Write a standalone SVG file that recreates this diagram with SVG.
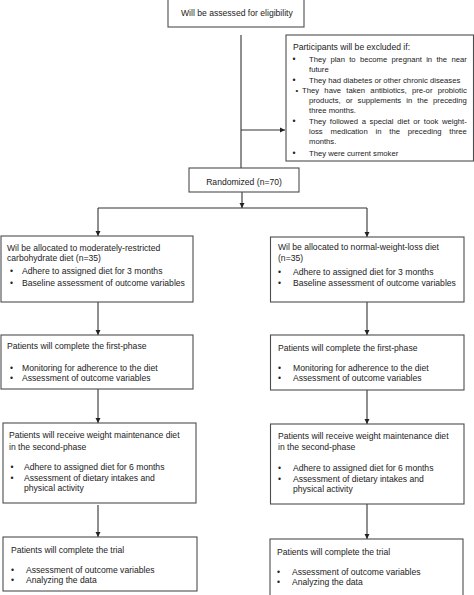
<svg xmlns="http://www.w3.org/2000/svg" width="474" height="595" viewBox="0 0 474 595">
<style>
.box{fill:#fff;stroke:#4d4d4d;stroke-width:1.1}
.t{font-family:"Liberation Sans",Arial,sans-serif;font-size:8.6px;fill:#222}
.s{font-family:"Liberation Sans",Arial,sans-serif;font-size:7.7px;fill:#222}
.c{fill:none;stroke:#333;stroke-width:1.1}
</style>
<defs>
<marker id="ah" markerUnits="userSpaceOnUse" markerWidth="6" markerHeight="6" refX="5" refY="3" orient="auto">
<path d="M0,0.5 L5,3 L0,5.5 Z" fill="#222"/>
</marker>
</defs>
<rect width="474" height="595" fill="#fff"/>
<g id="connectors">
<path class="c" d="M241 35 V168"/>
<path class="c" d="M241 130 H285" marker-end="url(#ah)"/>
<path class="c" d="M242 192 V208" marker-end="url(#ah)"/>
<path class="c" d="M98 208 H367"/>
<path class="c" d="M98 208 V236" marker-end="url(#ah)"/>
<path class="c" d="M367 208 V237" marker-end="url(#ah)"/>
<path class="c" d="M98 302 V335" marker-end="url(#ah)"/>
<path class="c" d="M367 302 V335" marker-end="url(#ah)"/>
<path class="c" d="M98 389 V423" marker-end="url(#ah)"/>
<path class="c" d="M367 390 V424" marker-end="url(#ah)"/>
<path class="c" d="M98 505 V537" marker-end="url(#ah)"/>
<path class="c" d="M367 504 V539" marker-end="url(#ah)"/>
</g>
<g id="eligibility">
<rect class="box" x="168" y="-1" width="136" height="28"/>
<text class="t" x="181" y="16">Will be assessed for eligibility</text>
</g>
<g id="excluded">
<rect class="box" x="286" y="35" width="187.5" height="126"/>
<text class="t" x="293" y="50">Participants will be excluded if:</text>
<text class="t" x="292.5" y="62">•</text>
<text class="s" x="309" y="62" word-spacing="2.15">They plan to become pregnant in the near</text>
<text class="s" x="309" y="72">future</text>
<text class="t" x="292.5" y="83">•</text>
<text class="s" x="309" y="83">They had diabetes or other chronic diseases</text>
<text class="s" x="295.5" y="93" font-size="6">•</text>
<text class="s" x="302" y="93" word-spacing="3.13">They have taken antibiotics, pre-or probiotic</text>
<text class="s" x="309" y="103" word-spacing="2.93">products, or supplements in the preceding</text>
<text class="s" x="309" y="113">three months.</text>
<text class="t" x="292.5" y="124">•</text>
<text class="s" x="309" y="124" word-spacing="1.54">They followed a special diet or took weight-</text>
<text class="s" x="309" y="134" word-spacing="5.67">loss medication in the preceding three</text>
<text class="s" x="309" y="144">months.</text>
<text class="t" x="292.5" y="156">•</text>
<text class="s" x="309" y="156">They were current smoker</text>
</g>
<g id="randomized">
<rect class="box" x="189" y="168" width="110" height="24"/>
<text class="t" x="244" y="185" text-anchor="middle">Randomized (n=70)</text>
</g>
<g id="left-allocation">
<rect class="box" x="1" y="236" width="192" height="66"/>
<text class="t" x="7" y="251">Wil be allocated to moderately-restricted</text>
<text class="t" x="7" y="261">carbohydrate diet (n=35)</text>
<text class="t" x="10" y="274">•</text>
<text class="t" x="22" y="274">Adhere to assigned diet for 3 months</text>
<text class="t" x="10" y="286">•</text>
<text class="t" x="22" y="286">Baseline assessment of outcome variables</text>
</g>
<g id="right-allocation">
<rect class="box" x="270.5" y="237" width="193.5" height="65"/>
<text class="t" x="278" y="250">Wil be allocated to normal-weight-loss diet</text>
<text class="t" x="278" y="261">(n=35)</text>
<text class="t" x="278" y="275">•</text>
<text class="t" x="293" y="275">Adhere to assigned diet for 3 months</text>
<text class="t" x="278" y="286">•</text>
<text class="t" x="293" y="286">Baseline assessment of outcome variables</text>
</g>
<g id="left-first-phase">
<rect class="box" x="1" y="335" width="192" height="54"/>
<text class="t" x="7" y="349">Patients will complete the first-phase</text>
<text class="t" x="10" y="371">•</text>
<text class="t" x="22" y="371">Monitoring for adherence to the diet</text>
<text class="t" x="10" y="381">•</text>
<text class="t" x="22" y="381">Assessment of outcome variables</text>
</g>
<g id="right-first-phase">
<rect class="box" x="270.5" y="335" width="193.5" height="55"/>
<text class="t" x="278" y="351">Patients will complete the first-phase</text>
<text class="t" x="278" y="371">•</text>
<text class="t" x="293" y="371">Monitoring for adherence to the diet</text>
<text class="t" x="278" y="381">•</text>
<text class="t" x="293" y="381">Assessment of outcome variables</text>
</g>
<g id="left-second-phase">
<rect class="box" x="3" y="423" width="193" height="80"/>
<text class="t" x="9" y="438">Patients will receive weight maintenance diet</text>
<text class="t" x="9" y="450">in the second-phase</text>
<text class="t" x="10.5" y="470">•</text>
<text class="t" x="24" y="470">Adhere to assigned diet for 6 months</text>
<text class="t" x="10.5" y="481">•</text>
<text class="t" x="24" y="481">Assessment of dietary intakes and</text>
<text class="t" x="24" y="491">physical activity</text>
</g>
<g id="right-second-phase">
<rect class="box" x="270.5" y="424" width="193.5" height="80"/>
<text class="t" x="278" y="439">Patients will receive weight maintenance diet</text>
<text class="t" x="278" y="450">in the second-phase</text>
<text class="t" x="278" y="471">•</text>
<text class="t" x="293" y="471">Adhere to assigned diet for 6 months</text>
<text class="t" x="278" y="482">•</text>
<text class="t" x="293" y="482">Assessment of dietary intakes and</text>
<text class="t" x="293" y="492">physical activity</text>
</g>
<g id="left-trial">
<rect class="box" x="3" y="537" width="194" height="54"/>
<text class="t" x="11" y="553">Patients will complete the trial</text>
<text class="t" x="11" y="573">•</text>
<text class="t" x="26" y="573">Assessment of outcome variables</text>
<text class="t" x="11" y="583">•</text>
<text class="t" x="26" y="583">Analyzing the data</text>
</g>
<g id="right-trial">
<rect class="box" x="270" y="539" width="193" height="60"/>
<text class="t" x="277" y="555">Patients will complete the trial</text>
<text class="t" x="277" y="575">•</text>
<text class="t" x="292" y="575">Assessment of outcome variables</text>
<text class="t" x="277" y="585">•</text>
<text class="t" x="292" y="585">Analyzing the data</text>
</g>
</svg>
